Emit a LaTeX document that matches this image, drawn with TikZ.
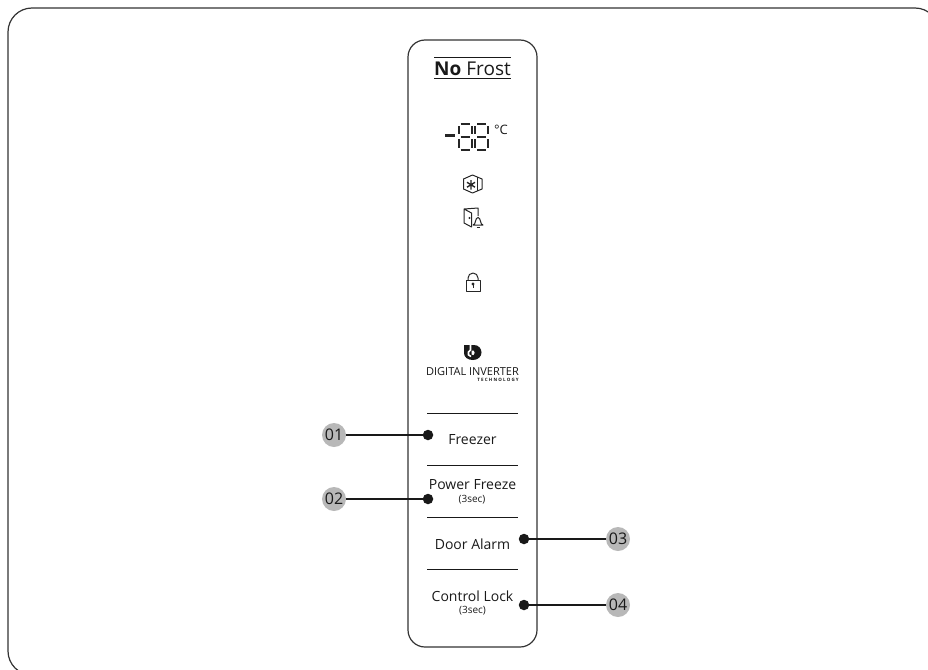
\documentclass[tikz,border=0pt]{standalone}
\usepackage{fontspec}
\setmainfont{Open Sans}
\tikzset{
  every node/.style={inner sep=0pt,text=black!90},
  frame/.style={draw=black!80,line width=1.2pt,rounded corners},
  sep/.style={draw=black!90,line width=0.9pt},
  lead/.style={draw=black!90,line width=1.9pt},
  dotm/.style={circle,fill=black!90,minimum size=10.5pt},
  badge/.style={circle,fill=black!28,minimum size=24pt,font=\fontsize{16}{17}\selectfont},
  icon/.style={draw=black!85,line width=1pt,line join=round},
  seg/.style={draw=black!85,line width=2pt},
  lab/.style={font=\fontsize{14}{15}\selectfont},
  sublab/.style={font=\fontsize{10}{12}\selectfont}
}
\begin{document}
\begin{tikzpicture}[x=1pt,y=-1pt]
\useasboundingbox (0,0) rectangle (928,669);
% outer frame
\draw[frame,rounded corners=24pt] (8,8) rectangle (939,675);
% panel
\draw[frame,rounded corners=17pt] (408,40) rectangle (537,647);
% logo
\draw[sep] (434,57.5) -- (511,57.5);
\draw[sep] (434,78.5) -- (511,78.5);
\node (nofrost) at (472.5,68.5) {\fontsize{19}{20}\selectfont\textbf{No} Frost};
% seven segment
\foreach \x in {457.5,474}{
  \draw[seg] (\x+3,123.5) -- (\x+12,123.5);
  \draw[seg] (\x+3,136.5) -- (\x+12,136.5);
  \draw[seg] (\x+3,149.5) -- (\x+12,149.5);
  \draw[seg] (\x+1,126) -- (\x+1,134);
  \draw[seg] (\x+14,126) -- (\x+14,134);
  \draw[seg] (\x+1,139) -- (\x+1,147.5);
  \draw[seg] (\x+14,139) -- (\x+14,147.5);
}
\draw[seg,line width=2.4pt] (445,135.5) -- (455,135.5);
\node (deg) at (501,130) {\fontsize{13}{14}\selectfont °C};
% hexagon snow icon
\draw[icon] (463.5,179) -- (472.5,175) -- (482,179) -- (482,189) -- (472.5,193) -- (463.5,189) -- cycle;
\draw[icon] (477.5,177) -- (477.5,191);
\draw[icon,line width=1.4pt] (471,180) -- (471,189.5) (467,182.3) -- (475,187.2) (467,187.2) -- (475,182.3);
% door alarm icon
\draw[icon] (464,209) -- (478,208) -- (478,216) (464,209) -- (464,223) -- (471.5,227) -- (471.5,213) -- cycle;
\fill[black!85] (469.5,218) circle (1.2pt);
\draw[icon] (473,225) .. controls (476,225) and (475,217.5) .. (478,217.5) .. controls (481,217.5) and (480,225) .. (483,225) -- cycle;
\draw[icon] (476.5,227) -- (479.5,227);
% lock icon
\draw[icon] (466,280) rectangle (480,291);
\draw[icon] (468,280) -- (468,278) arc[start angle=180,end angle=360,radius=5] -- (478,280);
\fill[black!85] (473,284) circle (1.6pt);
\draw[icon,line width=0.8pt] (473,284) -- (473,288);
% digital inverter mark
\fill[black!90] (464,345) -- (474,345) .. controls (478.5,345) and (481.5,348.5) .. (481.5,352.5) .. controls (481.5,356.5) and (478,360) .. (473,360) .. controls (467.5,360) and (464,357) .. (464,353) -- cycle;
\draw[white,line width=1.6pt] (470.5,343.5) -- (470.5,350) -- (468.5,352) .. controls (467.5,354) and (468.5,356) .. (471,356.5);
\fill[white] (471.5,350.5) -- (473.5,350.5) .. controls (475,351.5) and (475,354) .. (473.5,355) -- (471.5,354.5) -- cycle;
\node (digital) at (472.5,372) {\fontsize{11}{12}\selectfont DIGITAL INVERTER};
\node[anchor=east] (tech) at (519,380) {\fontsize{4.5}{5}\selectfont\bfseries T E C H N O L O G Y};
% separators
\draw[sep] (427,413.5) -- (518,413.5);
\draw[sep] (427,465.5) -- (518,465.5);
\draw[sep] (427,517.5) -- (518,517.5);
\draw[sep] (427,569.5) -- (518,569.5);
% labels
\node[lab] (fz) at (472.5,439.5) {Freezer};
\node[lab] (pf) at (472.5,484.5) {Power Freeze};
\node[sublab] (pf3) at (472,499.5) {(3sec)};
\node[lab] (da) at (472.5,544) {Door Alarm};
\node[lab] (cl) at (472.5,596) {Control Lock};
\node[sublab] (cl3) at (472.5,611) {(3sec)};
% leaders
\node[dotm] (d1) at (428,435) {};
\node[dotm] (d2) at (428,499) {};
\node[dotm] (d3) at (524,539) {};
\node[dotm] (d4) at (524,605) {};
\node[badge] (b1) at (334,435) {01};
\node[badge] (b2) at (334,499) {02};
\node[badge] (b3) at (618,539) {03};
\node[badge] (b4) at (618,605) {04};
\draw[lead] (b1) -- (d1);
\draw[lead] (b2) -- (d2);
\draw[lead] (d3) -- (b3);
\draw[lead] (d4) -- (b4);
\end{tikzpicture}
\end{document}
